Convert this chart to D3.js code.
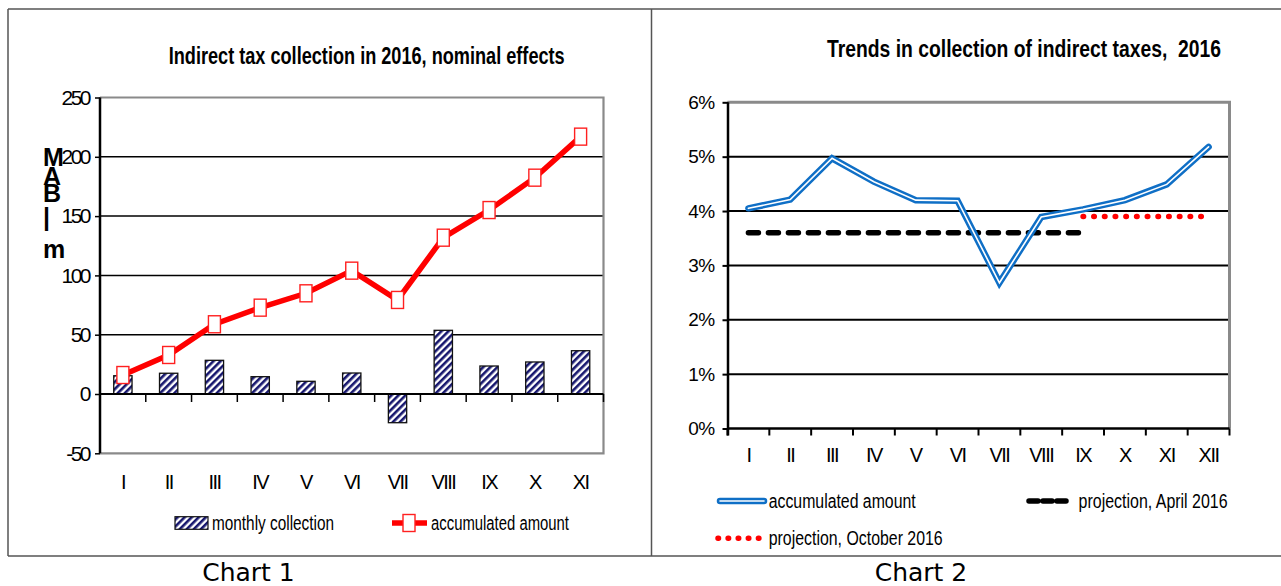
<!DOCTYPE html>
<html>
<head>
<meta charset="utf-8">
<script src="https://cdn.jsdelivr.net/npm/d3@7"></script>
<style>
  body { margin: 0; background: #fff; }
  svg { display: block; font-family: "Liberation Sans", Arial, sans-serif; }
  text { white-space: pre; }
</style>
</head>
<body>
<script>
// Chart 1 data
var months1 = ["I", "II", "III", "IV", "V", "VI", "VII", "VIII", "IX", "X", "XI"],
    monthly = [15.4, 17.5, 28.4, 14.6, 10.7, 17.7, -24.2, 53.7, 23.6, 27, 36.5],
    accumulated1 = [16, 32.9, 58.8, 72.8, 84.9, 104, 79.3, 131.8, 155.1, 182.4, 217],
    yTicks1 = [-50, 0, 50, 100, 150, 200, 250];

// Chart 2 data (percent)
var months2 = ["I", "II", "III", "IV", "V", "VI", "VII", "VIII", "IX", "X", "XI", "XII"],
    accumulated2 = [4.05, 4.21, 4.97, 4.54, 4.2, 4.19, 2.68, 3.89, 4.03, 4.2, 4.49, 5.18],
    projApril = [3.6, 3.6, 3.6, 3.6, 3.6, 3.6, 3.6, 3.6, 3.6, null, null, null],
    projOctober = [null, null, null, null, null, null, null, null, 3.9, 3.9, 3.9, 3.9],
    yTicks2 = [0, 1, 2, 3, 4, 5, 6];

var svg = d3.select("body").append("svg").
    attr("width", 1281).
    attr("height", 586);

// hatch for the monthly bars
var defs = svg.append("defs");
defs.append("pattern").
    attr("id", "hatch").
    attr("patternUnits", "userSpaceOnUse").
    attr("width", 5).attr("height", 5).
    attr("patternTransform", "rotate(45)").
    call(function (p) {
        p.append("rect").attr("width", 5).attr("height", 5).attr("fill", "#fff");
        p.append("rect").attr("width", 2.6).attr("height", 5).attr("fill", "#16166e");
    });

// outer frames
svg.append("path").
    attr("d", "M8,9 H1281 M8,556 H1281 M8,9 V556 M651.5,9 V556").
    attr("stroke", "#555").
    attr("stroke-width", 1.5).
    attr("fill", "none");

// ---------------- Chart 1 ----------------
var x1 = d3.scaleBand().domain(months1).range([100, 603.5]),
    y1 = d3.scaleLinear().domain([-50, 250]).range([453.3, 97.5]);

var g1 = svg.append("g");

// gridlines
g1.selectAll("line.grid").
    data(yTicks1.filter(function (d) { return d > 0 && d < 250; })).
    enter().append("line").
    attr("class", "grid").
    attr("x1", 100).attr("x2", 603.5).
    attr("y1", function (d) { return y1(d); }).
    attr("y2", function (d) { return y1(d); }).
    attr("stroke", "#000").attr("stroke-width", 1.5);

// plot border (gray top, right, bottom)
g1.append("path").
    attr("d", "M100," + y1(250) + " H603.5 V" + y1(-50) + " H100").
    attr("fill", "none").attr("stroke", "#8a8a8a").attr("stroke-width", 2.2);

// bars
var barW = x1.bandwidth() * 0.4;
g1.selectAll("rect.bar").
    data(monthly).
    enter().append("rect").
    attr("class", "bar").
    attr("x", function (d, i) { return x1(months1[i]) + (x1.bandwidth() - barW) / 2; }).
    attr("width", barW).
    attr("y", function (d) { return y1(Math.max(0, d)); }).
    attr("height", function (d) { return Math.abs(y1(d) - y1(0)); }).
    attr("fill", "url(#hatch)").
    attr("stroke", "#111").attr("stroke-width", 1.3);

// zero line with ticks at category boundaries
g1.append("line").
    attr("x1", 100).attr("x2", 603.5).
    attr("y1", y1(0)).attr("y2", y1(0)).
    attr("stroke", "#000").attr("stroke-width", 2);
g1.selectAll("line.xtick").
    data(months1).
    enter().append("line").
    attr("class", "xtick").
    attr("x1", function (d) { return x1(d) + x1.step(); }).
    attr("x2", function (d) { return x1(d) + x1.step(); }).
    attr("y1", y1(0)).attr("y2", y1(0) + 8).
    attr("stroke", "#000").attr("stroke-width", 1.5);

// y axis (plain hyphen for negatives, like the original)
var yAxis1 = g1.append("g").
    attr("transform", "translate(100,0)").
    call(d3.axisLeft(y1).tickValues(yTicks1).tickSize(5).tickPadding(6).
        tickFormat(function (d) { return String(d); }));
yAxis1.select(".domain").attr("stroke-width", 2.5).attr("d", "M0," + y1(250) + "V" + y1(-50));
yAxis1.selectAll(".tick line").attr("stroke-width", 1.5);
yAxis1.selectAll("text").
    attr("font-size", 21).
    attr("letter-spacing", -2.5).
    attr("font-family", "Liberation Sans, Arial, sans-serif").
    attr("fill", "#000");

// x labels
var xAxis1 = g1.append("g").
    attr("transform", "translate(0,470)").
    call(d3.axisBottom(x1).tickSize(0).tickPadding(0));
xAxis1.select(".domain").remove();
xAxis1.selectAll("text").
    attr("dy", 0).attr("y", 19).
    attr("font-size", 20).
    attr("letter-spacing", -1.6).
    attr("font-family", "Liberation Sans, Arial, sans-serif").
    attr("fill", "#000");

// accumulated line
var line1 = d3.line().
    x(function (d, i) { return x1(months1[i]) + x1.bandwidth() / 2; }).
    y(function (d) { return y1(d); });
g1.append("path").
    datum(accumulated1).
    attr("d", line1).
    attr("fill", "none").
    attr("stroke", "#ff0000").
    attr("stroke-width", 5.5).
    attr("stroke-linejoin", "miter");
g1.selectAll("rect.mk").
    data(accumulated1).
    enter().append("rect").
    attr("class", "mk").
    attr("x", function (d, i) { return x1(months1[i]) + x1.bandwidth() / 2 - 6; }).
    attr("y", function (d) { return y1(d) - 8.5; }).
    attr("width", 12).attr("height", 17).
    attr("fill", "#fff").attr("stroke", "#ff2020").attr("stroke-width", 1.4);

// title
g1.append("text").
    attr("x", 168.7).attr("y", 64).
    attr("font-size", 24).attr("font-weight", "bold").
    attr("textLength", 396).attr("lengthAdjust", "spacingAndGlyphs").
    text("Indirect tax collection in 2016, nominal effects");

// stacked y label
var yLab = [["M", 166], ["A", 185], ["B", 202], ["|", 226], ["m", 258]];
g1.selectAll("text.ylab").
    data(yLab).
    enter().append("text").
    attr("class", "ylab").
    attr("x", 43).
    attr("y", function (d) { return d[1]; }).
    attr("font-size", 25).attr("font-weight", "bold").
    text(function (d) { return d[0]; });

// legend
g1.append("rect").
    attr("x", 175).attr("y", 516.7).attr("width", 33).attr("height", 12.6).
    attr("fill", "url(#hatch)").attr("stroke", "#111").attr("stroke-width", 1.2);
g1.append("text").
    attr("x", 212).attr("y", 530).attr("font-size", 20).
    attr("textLength", 122).attr("lengthAdjust", "spacingAndGlyphs").
    text("monthly collection");
g1.append("line").
    attr("x1", 392).attr("x2", 427).attr("y1", 523).attr("y2", 523).
    attr("stroke", "#ff0000").attr("stroke-width", 5.5);
g1.append("rect").
    attr("x", 403).attr("y", 514.5).attr("width", 12).attr("height", 17).
    attr("fill", "#fff").attr("stroke", "#ff2020").attr("stroke-width", 1.4);
g1.append("text").
    attr("x", 431).attr("y", 530).attr("font-size", 20).
    attr("textLength", 138).attr("lengthAdjust", "spacingAndGlyphs").
    text("accumulated amount");

// ---------------- Chart 2 ----------------
var x2 = d3.scaleBand().domain(months2).range([727.5, 1229.5]),
    y2 = d3.scaleLinear().domain([0, 6]).range([428.5, 102.3]);

var g2 = svg.append("g");

g2.selectAll("line.grid").
    data(yTicks2.filter(function (d) { return d > 0 && d < 6; })).
    enter().append("line").
    attr("class", "grid").
    attr("x1", 727.5).attr("x2", 1229.5).
    attr("y1", function (d) { return y2(d); }).
    attr("y2", function (d) { return y2(d); }).
    attr("stroke", "#000").attr("stroke-width", 2);

g2.append("path").
    attr("d", "M727.5," + y2(6) + " H1229.5 V" + y2(0)).
    attr("fill", "none").attr("stroke", "#8a8a8a").attr("stroke-width", 3);

// x axis with boundary ticks
g2.append("line").
    attr("x1", 727.5).attr("x2", 1229.5).
    attr("y1", y2(0)).attr("y2", y2(0)).
    attr("stroke", "#000").attr("stroke-width", 2.5);
g2.selectAll("line.xtick").
    data([""].concat(months2)).
    enter().append("line").
    attr("class", "xtick").
    attr("x1", function (d, i) { return 727.5 + i * x2.step(); }).
    attr("x2", function (d, i) { return 727.5 + i * x2.step(); }).
    attr("y1", y2(0)).attr("y2", y2(0) + 7).
    attr("stroke", "#000").attr("stroke-width", 2);

var yAxis2 = g2.append("g").
    attr("transform", "translate(728,0)").
    call(d3.axisLeft(y2).tickValues(yTicks2).tickSize(5.5).tickPadding(8).
        tickFormat(function (d) { return d + "%"; }));
yAxis2.select(".domain").attr("stroke-width", 2.5).attr("d", "M0," + y2(6) + "V" + (y2(0) + 7));
yAxis2.selectAll(".tick line").attr("stroke-width", 2);
yAxis2.selectAll("text").
    attr("font-size", 19).
    attr("letter-spacing", -0.6).
    attr("font-family", "Liberation Sans, Arial, sans-serif").
    attr("fill", "#000");

var xAxis2 = g2.append("g").
    attr("transform", "translate(0,442)").
    call(d3.axisBottom(x2).tickSize(0).tickPadding(0));
xAxis2.select(".domain").remove();
xAxis2.selectAll("text").
    attr("dy", 0).attr("y", 19.7).
    attr("font-size", 20).
    attr("letter-spacing", -1.5).
    attr("font-family", "Liberation Sans, Arial, sans-serif").
    attr("fill", "#000");

var line2 = d3.line().
    defined(function (d) { return d != null; }).
    x(function (d, i) { return x2(months2[i]) + x2.bandwidth() / 2; }).
    y(function (d) { return y2(d); });

// projection April (black dashed)
g2.append("path").
    datum(projApril).
    attr("d", line2).
    attr("fill", "none").attr("stroke", "#000").
    attr("stroke-width", 5.5).
    attr("stroke-linecap", "round").
    attr("stroke-dasharray", "10 10");

// projection October (red dots)
g2.append("path").
    datum(projOctober).
    attr("d", line2).
    attr("fill", "none").attr("stroke", "#ff0000").
    attr("stroke-width", 5.5).
    attr("stroke-linecap", "round").
    attr("stroke-dasharray", "0.5 10.2");

// accumulated amount (double blue line)
g2.append("path").
    datum(accumulated2).
    attr("d", line2).
    attr("fill", "none").attr("stroke", "#0f6fc6").
    attr("stroke-width", 6.5).attr("stroke-linecap", "round");
g2.append("path").
    datum(accumulated2).
    attr("d", line2).
    attr("fill", "none").attr("stroke", "#fff").
    attr("stroke-width", 1.6).attr("stroke-linecap", "round");

g2.append("text").
    attr("x", 827).attr("y", 56.7).
    attr("font-size", 23).attr("font-weight", "bold").
    attr("textLength", 394).attr("lengthAdjust", "spacingAndGlyphs").
    text("Trends in collection of indirect taxes,  2016");

// legend
g2.append("line").
    attr("x1", 720).attr("x2", 764).attr("y1", 501).attr("y2", 501).
    attr("stroke", "#0f6fc6").attr("stroke-width", 6.5).attr("stroke-linecap", "round");
g2.append("line").
    attr("x1", 720).attr("x2", 764).attr("y1", 501).attr("y2", 501).
    attr("stroke", "#fff").attr("stroke-width", 1.6).attr("stroke-linecap", "round");
g2.append("text").
    attr("x", 768.7).attr("y", 508).attr("font-size", 20).
    attr("textLength", 147).attr("lengthAdjust", "spacingAndGlyphs").
    text("accumulated amount");

g2.append("line").
    attr("x1", 1029).attr("x2", 1066).attr("y1", 501).attr("y2", 501).
    attr("stroke", "#000").attr("stroke-width", 5.5).
    attr("stroke-linecap", "round").attr("stroke-dasharray", "9 5");
g2.append("text").
    attr("x", 1078.6).attr("y", 508).attr("font-size", 20).
    attr("textLength", 149).attr("lengthAdjust", "spacingAndGlyphs").
    text("projection, April 2016");

g2.append("line").
    attr("x1", 718).attr("x2", 764).attr("y1", 538.3).attr("y2", 538.3).
    attr("stroke", "#ff0000").attr("stroke-width", 5.5).
    attr("stroke-linecap", "round").attr("stroke-dasharray", "0.5 9.6");
g2.append("text").
    attr("x", 768.7).attr("y", 545).attr("font-size", 20).
    attr("textLength", 174).attr("lengthAdjust", "spacingAndGlyphs").
    text("projection, October 2016");

// captions under the frames
svg.append("text").
    attr("x", 248.5).attr("y", 581).
    attr("text-anchor", "middle").
    attr("font-family", "DejaVu Sans, sans-serif").
    attr("font-size", 25).
    text("Chart 1");
svg.append("text").
    attr("x", 921).attr("y", 581).
    attr("text-anchor", "middle").
    attr("font-family", "DejaVu Sans, sans-serif").
    attr("font-size", 25).
    text("Chart 2");
</script>
</body>
</html>
